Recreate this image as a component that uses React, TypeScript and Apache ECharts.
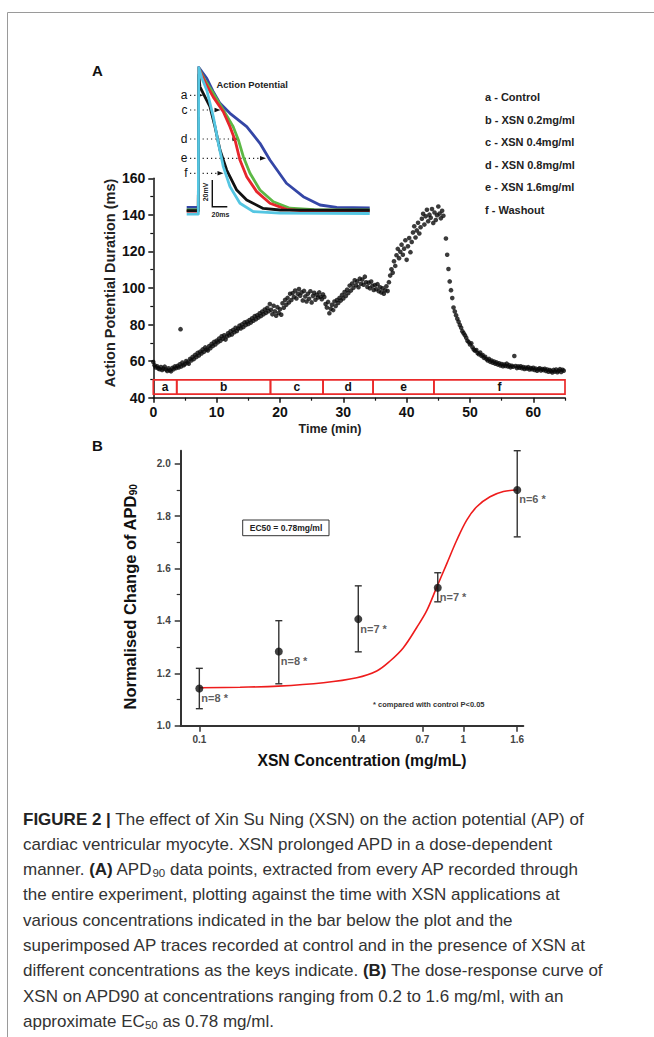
import React, { useEffect, useRef } from "react";
import * as echarts from "echarts";

const FONT = '"Liberation Sans", Arial, Helvetica, sans-serif';

// ---------------- Panel A: APD90 over time ----------------
const apdPoints: [number, number][] = [
  [0, 59.5], [0.2, 57.8], [0.4, 56.5], [0.6, 57.2], [0.8, 56], [1, 55.6], [1.2, 56.8], [1.4, 55.2], [1.6, 55.9], [1.8, 57],
  [2, 55.4], [2.2, 54.6], [2.4, 56.1], [2.6, 55], [2.8, 54.4], [3, 56.3], [3.2, 55.6], [3.4, 57.1], [3.6, 56.2], [3.8, 57.4],
  [4.3, 77.5],
  [4, 56.5], [4.2, 58.3], [4.4, 57.1], [4.6, 59.2], [4.8, 57.8], [5, 58.4], [5.2, 60.1], [5.4, 59.3], [5.6, 58.6], [5.8, 61.2],
  [6, 60.4], [6.2, 62.3], [6.4, 61.1], [6.6, 63.4], [6.8, 62.2], [7, 64.5], [7.2, 63.1], [7.4, 65.2], [7.6, 64.2], [7.8, 66.4],
  [8, 65.1], [8.2, 67.5], [8.4, 66.3], [8.6, 65.8], [8.8, 68.2], [9, 67.1], [9.2, 69.4], [9.4, 68.3], [9.6, 70.5], [9.8, 69.1],
  [10, 71.2], [10.2, 70.3], [10.4, 72.4], [10.6, 71.1], [10.8, 73.6], [11, 72.2], [11.2, 74.1], [11.4, 71.8], [11.6, 73.5], [11.8, 75.2],
  [12, 74.1], [12.2, 76.3], [12.4, 74.6], [12.6, 77.1], [12.8, 75.8], [13, 78.2], [13.2, 76.5], [13.4, 77.8], [13.6, 79.4], [13.8, 77.9],
  [14, 80.1], [14.2, 78.6], [14.4, 81.2], [14.6, 79.8], [14.8, 81.6], [15, 80.3], [15.2, 82.5], [15.4, 81.1], [15.6, 83.4], [15.8, 82.1],
  [16, 84.6], [16.2, 82.9], [16.4, 85.1], [16.6, 83.8], [16.8, 86.2], [17, 84.7], [17.2, 87.1], [17.4, 85.6], [17.6, 88.2], [17.8, 86.4],
  [18, 89.1], [18.2, 87.3], [18.4, 91.2],
  [18.6, 88.1], [18.8, 85.6], [19, 90.3], [19.2, 87.2], [19.4, 84.8], [19.6, 89.5], [19.8, 86.3], [20, 88.4], [20.2, 85.4], [20.4, 91.6],
  [20.6, 89.2], [20.8, 93.5], [21, 90.8], [21.2, 94.6], [21.4, 92.1], [21.6, 96.8], [21.8, 93.4], [22, 97.2], [22.2, 95.1], [22.4, 98.6],
  [22.6, 94.3], [22.8, 96.9], [23, 99.4], [23.2, 95.8], [23.4, 97.6], [23.6, 93.2], [23.8, 98.4], [24, 95.4], [24.2, 92.6], [24.4, 96.8],
  [24.6, 94.1], [24.8, 98.2], [25, 92.1], [25.2, 95.6], [25.4, 97.4], [25.6, 93.6], [25.8, 96.3], [26, 94.8], [26.2, 97.6], [26.4, 95.2],
  [26.6, 93.9], [26.8, 96.5], [27, 95.1],
  [27.2, 91.2], [27.4, 89.3], [27.6, 92.4], [27.8, 86.2], [28, 88.7], [28.2, 90.8], [28.4, 87.9], [28.6, 92.6], [28.8, 90.1], [29, 93.4],
  [29.2, 91.8], [29.4, 94.6], [29.6, 93.1], [29.8, 96.2], [30, 94.3], [30.2, 97.8], [30.4, 95.6], [30.6, 99.1], [30.8, 97.2], [31, 101.3],
  [31.2, 98.6], [31.4, 102.4], [31.6, 100.1], [31.8, 104.2], [32, 101.5], [32.2, 103.6], [32.4, 100.4], [32.6, 105.1], [32.8, 102.3], [33, 104.6],
  [33.2, 101.8], [33.4, 106.2], [33.6, 103.1], [33.8, 100.6], [34, 102.9], [34.2, 99.8], [34.4, 103.5], [34.6, 101.2], [34.8, 98.9],
  [35, 101.6], [35.2, 99.3], [35.4, 102.1], [35.6, 98.2], [35.8, 100.4], [36, 97.6], [36.2, 99.8], [36.4, 96.9], [36.6, 98.7], [36.8, 100.9],
  [37, 98.3], [37.2, 103.2], [37.4, 106.8], [37.6, 110.2], [37.8, 108.4], [38, 114.6], [38.2, 112.1], [38.4, 117.9], [38.6, 121.4], [38.8, 116.3],
  [39, 119.8], [39.2, 123.7], [39.4, 118.2], [39.6, 121.5], [39.8, 126.1], [40, 115.4], [40.2, 122.8], [40.4, 127.3], [40.6, 119.6], [40.8, 125.2],
  [41, 130.4], [41.2, 133.8], [41.4, 127.6], [41.6, 131.5], [41.8, 135.7], [42, 129.8], [42.2, 133.2], [42.4, 137.9], [42.6, 140.6], [42.8, 134.7],
  [43, 139.2], [43.2, 142.8], [43.4, 136.5], [43.6, 140.1], [43.8, 138.4], [44, 143.2], [44.2, 135.6],
  [44.4, 141.3], [44.6, 137.2], [44.8, 139.8], [45, 144.6], [45.2, 140.7], [45.4, 138.1], [45.6, 142.2], [45.8, 139.5], [46.2, 127.1], [46.4, 118.2],
  [46.6, 110.4], [46.8, 103.6], [47, 98.8], [47.2, 94.5], [47.4, 89.3], [47.6, 87.2], [47.8, 85.1], [48, 83.2], [48.2, 81.6], [48.4, 79.8],
  [48.6, 78.2], [48.8, 76.4], [49, 75.3], [49.2, 74.1], [49.4, 72.8], [49.6, 71.2], [49.8, 70.4], [50, 69.1], [50.2, 69.8], [50.4, 67.6],
  [50.6, 66.3], [50.8, 65.7], [51, 66.1], [51.2, 64.4], [51.4, 63.8], [51.6, 64.7], [51.8, 62.9], [52, 63.3], [52.2, 61.8], [52.4, 62.4],
  [52.6, 61.1], [52.8, 60.4], [53, 61.2], [53.2, 59.6], [53.4, 60.3], [53.6, 59.1], [53.8, 59.8], [54, 58.6], [54.2, 59.3], [54.4, 58.1],
  [54.6, 58.8], [54.8, 57.6], [55, 58.4], [55.2, 57.2], [55.4, 58.1], [55.6, 57.4], [55.8, 58.6], [56, 57.1], [56.2, 57.8], [56.4, 56.6],
  [56.6, 57.5], [56.8, 56.9], [57, 62.8], [57.2, 57.3], [57.4, 56.2], [57.6, 57.1], [57.8, 56.4], [58, 57.2], [58.2, 56.1], [58.4, 56.8],
  [58.6, 55.7], [58.8, 56.5], [59, 55.9], [59.2, 56.7], [59.4, 55.4], [59.6, 56.2], [59.8, 55.6], [60, 56.4], [60.2, 55.2], [60.4, 55.9],
  [60.6, 54.8], [60.8, 55.6], [61, 56.1], [61.2, 54.9], [61.4, 55.7], [61.6, 55.1], [61.8, 55.8], [62, 54.6], [62.2, 55.4], [62.4, 54.2],
  [62.6, 55.1], [62.8, 54.5], [63, 53.8], [63.2, 55.2], [63.4, 54.3], [63.6, 55.4], [63.8, 53.9], [64, 54.7], [64.2, 55.6], [64.4, 54.1],
  [64.6, 55.3], [64.8, 54.8],
];

const barStart = [0, 3.7, 18.5, 26.8, 34.7, 44.3];
const barEnd = [3.7, 18.5, 26.8, 34.7, 44.3, 65];
const barLabels = ["a", "b", "c", "d", "e", "f"];
const barTop = 49.8;
const barBottom = 42;

const xTicksA = [0, 10, 20, 30, 40, 50, 60];
const xMinorA = [5, 15, 25, 35, 45, 55, 65];
const yTicksA = [40, 60, 80, 100, 120, 140, 160];
const yMinorA = [50, 70, 90, 110, 130, 150];

// Inset AP traces (ms, mV)
const traceWashout: [number, number][] = [
  [0, -83], [15.5, -83], [16, 25.5], [20, 18], [26.7, 8.9], [35.5, -10.9], [42.2, -30.6], [48.8, -47.9],
  [57.7, -62.7], [71, -75], [88.8, -81.2], [124, -82.3], [244, -82.6],
];
const traceControl: [number, number][] = [
  [0, -80.5], [15.5, -80.5], [16, 20], [17.7, 11.3], [22, 6.4], [31, -3.5], [37.7, -18.3], [44.4, -35.6],
  [53.3, -50.4], [66.7, -65.2], [80, -72.6], [102, -78.8], [124, -80], [244, -80.2],
];
const trace02: [number, number][] = [
  [0, -81], [15.5, -81], [16, 25], [25, 14], [35.5, 3.6], [48.8, -7.2], [57.7, -18.3], [64.4, -28.1], [71, -43],
  [80, -55.3], [93.3, -66.4], [111, -75], [133, -79.5], [160, -80.8], [244, -81],
];
const trace04: [number, number][] = [
  [0, -80], [15.5, -80], [16, 25], [25, 15.5], [35.5, 6.4], [48.8, -5.9], [62, -18.3], [68.9, -28.1], [75.5, -40.5],
  [84.4, -52.8], [97.7, -65.2], [115.5, -73.9], [137.7, -78.7], [170, -79.7], [244, -79.9],
];
const trace08: [number, number][] = [
  [0, -78], [15.5, -78], [16, 25.7], [26.7, 17.6], [35, 8], [44.4, -1], [57.7, -8.4], [80, -18.3], [97.7, -30.6],
  [111, -43], [133, -60.2], [155.5, -70.1], [177.7, -76.3], [200, -78], [244, -78.4],
];
const insetTraces = [trace08, trace04, trace02, traceControl, traceWashout];
const insetColors = ["#3446a6", "#5cb845", "#e6262c", "#111111", "#55c6e2"];

const legendLabels = [
  "a - Control",
  "b - XSN 0.2mg/ml",
  "c - XSN 0.4mg/ml",
  "d - XSN 0.8mg/ml",
  "e - XSN 1.6mg/ml",
  "f - Washout",
];

// ---------------- Panel B: dose response ----------------
const concentrations = [0.1, 0.2, 0.4, 0.8, 1.6];
const meanChange = [1.142, 1.283, 1.407, 1.527, 1.9];
const errLow = [1.065, 1.16, 1.282, 1.473, 1.721];
const errHigh = [1.219, 1.401, 1.534, 1.584, 2.05];
const nLabels = ["n=8 *", "n=8 *", "n=7 *", "n=7 *", "n=6 *"];

const fitConc = [0.1, 0.1426, 0.199, 0.2952, 0.3947, 0.47, 0.5277, 0.5928, 0.666, 0.7267, 0.793, 0.865, 0.944, 1.03, 1.124, 1.262, 1.418, 1.6];
const fitValue = [1.145, 1.147, 1.151, 1.164, 1.183, 1.209, 1.247, 1.298, 1.375, 1.439, 1.529, 1.618, 1.708, 1.785, 1.836, 1.874, 1.894, 1.9];

const xTickConcB = [0.1, 0.4, 0.7, 1, 1.6];
const yTicksB = [1.0, 1.2, 1.4, 1.6, 1.8, 2.0];
const yMinorB = [1.1, 1.3, 1.5, 1.7, 1.9];

const captionLines = [
  "{b|FIGURE 2 |} The effect of Xin Su Ning (XSN) on the action potential (AP) of",
  "cardiac ventricular myocyte. XSN prolonged APD in a dose-dependent",
  "manner. {b|(A)} APD{s|90} data points, extracted from every AP recorded through",
  "the entire experiment, plotting against the time with XSN applications at",
  "various concentrations indicated in the bar below the plot and the",
  "superimposed AP traces recorded at control and in the presence of XSN at",
  "different concentrations as the keys indicate. {b|(B)} The dose-response curve of",
  "XSN on APD90 at concentrations ranging from 0.2 to 1.6 mg/ml, with an",
  "approximate EC{s|50} as 0.78 mg/ml.",
];

// inset annotation letters: [label, y, arrow tip x]
const insetMarks: [string, number, number][] = [
  ["a", 95.3, 203.3],
  ["c", 110, 220.5],
  ["d", 139, 238.5],
  ["e", 158.3, 266],
  ["f", 173.3, 223.5],
];

const lg10 = (v: number) => Math.log10(v);

function buildOption() {
  const graphics: any[] = [];
  graphics.push({ type: "line", shape: { x1: 7.5, y1: 12.5, x2: 654, y2: 12.5 }, style: { stroke: "#9a9a9a", lineWidth: 1 } });
  graphics.push({ type: "line", shape: { x1: 7.5, y1: 12.5, x2: 7.5, y2: 1037 }, style: { stroke: "#9a9a9a", lineWidth: 1 } });
  graphics.push({ type: "text", x: 92, y: 70, style: { text: "A", font: `bold 15px ${FONT}`, fill: "#111", verticalAlign: "middle" } });
  graphics.push({ type: "text", x: 92, y: 445, style: { text: "B", font: `bold 15px ${FONT}`, fill: "#111", verticalAlign: "middle" } });
  graphics.push({ type: "text", x: 216.5, y: 84, style: { text: "Action Potential", font: `bold 9.4px ${FONT}`, fill: "#222", verticalAlign: "middle" } });
  legendLabels.forEach((t, i) => {
    graphics.push({ type: "text", x: 485, y: 97 + 22.5 * i, style: { text: t, font: `bold 11px ${FONT}`, fill: "#222", verticalAlign: "middle" } });
  });
  insetMarks.forEach(([lab, y, tip]) => {
    graphics.push({ type: "text", x: 187.5, y, style: { text: lab, font: `12px ${FONT}`, fill: "#111", align: "right", verticalAlign: "middle" } });
    graphics.push({ type: "line", shape: { x1: 190, y1: y, x2: tip - 4, y2: y }, style: { stroke: "#222", lineWidth: 1.2, lineDash: [1.2, 3] } });
    graphics.push({ type: "polygon", shape: { points: [[tip - 6, y - 2.3], [tip, y], [tip - 6, y + 2.3]] }, style: { fill: "#111" } });
  });
  graphics.push({ type: "polyline", shape: { points: [[212.3, 180], [212.3, 206.7], [227.3, 206.7]] }, style: { stroke: "#111", lineWidth: 1.4, fill: null } });
  graphics.push({ type: "text", x: 205, y: 192, rotation: Math.PI / 2, style: { text: "20mV", font: `bold 7px ${FONT}`, fill: "#222", align: "center", verticalAlign: "middle" } });
  graphics.push({ type: "text", x: 211.5, y: 214.5, style: { text: "20ms", font: `bold 7px ${FONT}`, fill: "#222", verticalAlign: "middle" } });
  graphics.push({ type: "text", x: 330, y: 428.5, style: { text: "Time (min)", font: `bold 12.5px ${FONT}`, fill: "#222", align: "center", verticalAlign: "middle" } });
  graphics.push({ type: "text", x: 110, y: 283, rotation: Math.PI / 2, style: { text: "Action Potential Duration (ms)", font: `bold 14.5px ${FONT}`, fill: "#222", align: "center", verticalAlign: "middle" } });
  graphics.push({ type: "text", x: 362, y: 760, style: { text: "XSN Concentration (mg/mL)", font: `bold 15.7px ${FONT}`, fill: "#111", align: "center", verticalAlign: "middle" } });
  graphics.push({
    type: "text", x: 130, y: 597, rotation: Math.PI / 2,
    style: {
      text: "Normalised Change of APD{s|90}", font: `bold 16.5px ${FONT}`, fill: "#111", align: "center", verticalAlign: "middle",
      rich: { s: { fontSize: 10, fontWeight: "bold", fontFamily: FONT, fill: "#111", padding: [6, 0, 0, 0] } },
    },
  });
  graphics.push({ type: "rect", shape: { x: 242.7, y: 520, width: 86.3, height: 15.7 }, style: { fill: "#fff", stroke: "#333", lineWidth: 1 } });
  graphics.push({ type: "text", x: 286, y: 528, style: { text: "EC50 = 0.78mg/ml", font: `bold 8.5px ${FONT}`, fill: "#222", align: "center", verticalAlign: "middle" } });
  graphics.push({ type: "text", x: 373, y: 704.3, style: { text: "* compared with control P<0.05", font: `bold 7.5px ${FONT}`, fill: "#333", verticalAlign: "middle" } });
  captionLines.forEach((line, i) => {
    graphics.push({
      type: "text", x: 23, y: 819 + 25.3 * i,
      style: {
        text: line, font: `17px ${FONT}`, fill: "#333", verticalAlign: "middle",
        rich: {
          b: { fontWeight: "bold", fontSize: 17, fontFamily: FONT, fill: "#222" },
          s: { fontSize: 11.5, fontFamily: FONT, fill: "#333", padding: [7, 0, 0, 0] },
        },
      },
    });
  });

  const axisLine = (c: string, w: number) => ({ show: true, onZero: false, lineStyle: { color: c, width: w } });

  return {
    animation: false,
    backgroundColor: "#fff",
    grid: [
      { left: 153.3, top: 178.3, width: 411.7, height: 219.4 },
      { left: 186.7, top: 66.9, width: 183, height: 149.85 },
      { left: 180.7, top: 450.7, width: 342.6, height: 275 },
    ],
    xAxis: [
      {
        gridIndex: 0, type: "value", position: "bottom", min: 0, max: 65, splitLine: { show: false },
        axisLine: axisLine("#111", 1.5),
        axisTick: { show: true, length: 5, lineStyle: { color: "#111", width: 1.5 }, customValues: xTicksA },
        axisLabel: { customValues: xTicksA, fontSize: 14, fontWeight: "bold", color: "#111", fontFamily: FONT, margin: 7 },
      },
      {
        gridIndex: 0, type: "value", position: "bottom", min: 0, max: 65, splitLine: { show: false },
        axisLine: { show: false, onZero: false }, axisLabel: { show: false },
        axisTick: { show: true, length: 3, lineStyle: { color: "#111", width: 1.2 }, customValues: xMinorA },
      },
      { gridIndex: 1, type: "value", min: 0, max: 244, show: false },
      {
        gridIndex: 2, type: "value", position: "bottom", min: lg10(0.085), max: lg10(1.687), splitLine: { show: false },
        axisLine: axisLine("#333", 2),
        axisTick: { show: true, length: 6, lineStyle: { color: "#333", width: 1.5 }, customValues: xTickConcB.map(lg10) },
        axisLabel: {
          customValues: xTickConcB.map(lg10), fontSize: 10, fontWeight: "bold", color: "#444", fontFamily: FONT, margin: 9,
          formatter: (v: number) => String(Math.round(Math.pow(10, v) * 10) / 10),
        },
      },
    ],
    yAxis: [
      {
        gridIndex: 0, type: "value", position: "left", min: 40, max: 160, interval: 20, splitLine: { show: false },
        axisLine: axisLine("#111", 1.5),
        axisTick: { show: true, length: 5, lineStyle: { color: "#111", width: 1.5 }, customValues: yTicksA },
        axisLabel: { customValues: yTicksA, fontSize: 14, fontWeight: "bold", color: "#111", fontFamily: FONT, margin: 8 },
      },
      {
        gridIndex: 0, type: "value", position: "left", min: 40, max: 160, splitLine: { show: false },
        axisLine: { show: false, onZero: false }, axisLabel: { show: false },
        axisTick: { show: true, length: 3, lineStyle: { color: "#111", width: 1.2 }, customValues: yMinorA },
      },
      { gridIndex: 1, type: "value", min: -85, max: 26, show: false },
      {
        gridIndex: 2, type: "value", position: "left", min: 1.0, max: 2.05, splitLine: { show: false },
        axisLine: axisLine("#333", 2),
        axisTick: { show: true, length: 6, lineStyle: { color: "#333", width: 1.5 }, customValues: yTicksB },
        axisLabel: {
          customValues: yTicksB, fontSize: 10, fontWeight: "bold", color: "#444", fontFamily: FONT, margin: 10,
          formatter: (v: number) => v.toFixed(1),
        },
      },
      {
        gridIndex: 2, type: "value", position: "left", min: 1.0, max: 2.05, splitLine: { show: false },
        axisLine: { show: false, onZero: false }, axisLabel: { show: false },
        axisTick: { show: true, length: 4, lineStyle: { color: "#333", width: 1.2 }, customValues: yMinorB },
      },
    ],
    series: [
      {
        type: "custom", xAxisIndex: 0, yAxisIndex: 0, z: 3,
        data: barStart.map((s, i) => [s, barEnd[i], i]),
        renderItem: (params: any, api: any) => {
          const s = api.value(0);
          const e = api.value(1);
          const idx = api.value(2);
          const p0 = api.coord([s, barTop]);
          const p1 = api.coord([e, barBottom]);
          return {
            type: "group",
            children: [
              {
                type: "rect",
                shape: { x: p0[0], y: p0[1], width: p1[0] - p0[0], height: p1[1] - p0[1] },
                style: { fill: "rgba(255,255,255,0)", stroke: "#ea2a2a", lineWidth: 1.7 },
              },
              {
                type: "text",
                x: (p0[0] + p1[0]) / 2, y: (p0[1] + p1[1]) / 2 + 0.5,
                style: { text: barLabels[idx], font: `bold 12px ${FONT}`, fill: "#111", align: "center", verticalAlign: "middle" },
              },
            ],
          };
        },
      },
      {
        type: "scatter", xAxisIndex: 0, yAxisIndex: 0, data: apdPoints, symbolSize: 4.6,
        itemStyle: { color: "#0a0a0a" }, z: 4,
      },
      ...insetTraces.map((tr, i) => ({
        type: "line", xAxisIndex: 2, yAxisIndex: 2, data: tr, showSymbol: false, symbol: "none",
        smooth: false, lineStyle: { color: insetColors[i], width: 2.8, join: "round" }, z: 5 + i,
      })),
      {
        type: "line", xAxisIndex: 3, yAxisIndex: 3, data: fitConc.map((c, i) => [lg10(c), fitValue[i]]),
        symbol: "none", smooth: 0.35, lineStyle: { color: "#ee1c1c", width: 1.6 }, z: 3,
      },
      {
        type: "custom", xAxisIndex: 3, yAxisIndex: 3, z: 4,
        data: concentrations.map((c, i) => [lg10(c), errLow[i], errHigh[i]]),
        renderItem: (params: any, api: any) => {
          const x = api.value(0);
          const pT = api.coord([x, api.value(2)]);
          const pB = api.coord([x, api.value(1)]);
          const w = 3.5;
          const st = { stroke: "#333", lineWidth: 1.4 };
          return {
            type: "group",
            children: [
              { type: "line", shape: { x1: pT[0], y1: pT[1], x2: pB[0], y2: pB[1] }, style: st },
              { type: "line", shape: { x1: pT[0] - w, y1: pT[1], x2: pT[0] + w, y2: pT[1] }, style: st },
              { type: "line", shape: { x1: pB[0] - w, y1: pB[1], x2: pB[0] + w, y2: pB[1] }, style: st },
            ],
          };
        },
      },
      {
        type: "scatter", xAxisIndex: 3, yAxisIndex: 3, z: 5,
        data: concentrations.map((c, i) => [lg10(c), meanChange[i]]),
        symbolSize: 8, itemStyle: { color: "#111" },
        label: {
          show: true, position: "right", distance: 0, offset: [-2, 9.5],
          formatter: (p: any) => nLabels[p.dataIndex],
          fontSize: 11, fontWeight: "bold", color: "#333", fontFamily: FONT,
        },
      },
    ],
    graphic: graphics,
  };
}

export default function App() {
  const ref = useRef<HTMLDivElement>(null);
  useEffect(() => {
    document.body.style.margin = "0";
    if (!ref.current) return;
    const chart = echarts.init(ref.current, undefined, { renderer: "svg" });
    chart.setOption(buildOption() as any);
    return () => chart.dispose();
  }, []);
  return <div ref={ref} style={{ width: 654, height: 1037, background: "#fff" }} />;
}
